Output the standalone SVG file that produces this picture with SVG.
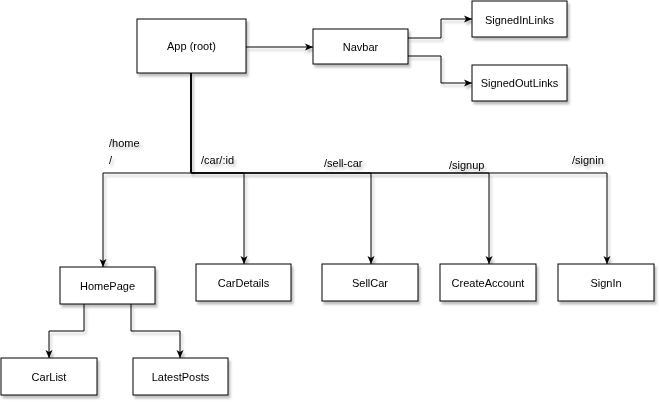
<svg xmlns="http://www.w3.org/2000/svg" width="659" height="402" viewBox="0 0 659 402">
<style>
.box{fill:#fff;stroke:#000;stroke-width:1}
.t{font-family:"Liberation Sans",Arial,sans-serif;font-size:11px;fill:#000;text-anchor:middle;dominant-baseline:central}
.lbl{font-family:"Liberation Sans",Arial,sans-serif;font-size:11px;fill:#000}
.e{fill:none;stroke:#000;stroke-width:1;marker-end:url(#arr)}
.n{fill:none;stroke:#000;stroke-width:1}
</style>
<defs>
<filter id="sh" x="-20%" y="-20%" width="150%" height="160%">
<feDropShadow dx="2" dy="3" stdDeviation="1.2" flood-color="#000" flood-opacity="0.25"/>
</filter>
<marker id="arr" markerWidth="10" markerHeight="10" refX="8" refY="4" orient="auto" markerUnits="userSpaceOnUse">
<path d="M0,0.5 L8,4 L0,7.5 L2,4 Z" fill="#000"/>
</marker>
</defs>
<rect width="659" height="402" fill="#fff"/>
<g id="connectors" filter="url(#sh)">
<path class="e" d="M246,47 L313,47"/>
<path class="e" d="M408,38 L441,38 L441,19 L472,19"/>
<path class="e" d="M408,56 L441,56 L441,83 L472,83"/>
<path class="e" d="M191,73 L191,173 L103,173 L103,267"/>
<path class="e" d="M191,73 L191,173 L244,173 L244,264"/>
<path class="e" d="M191,73 L191,173 L371,173 L371,264"/>
<path class="e" d="M191,73 L191,173 L489,173 L489,264"/>
<path class="e" d="M191,73 L191,173 L607,173 L607,264"/>
<path class="e" d="M84,304 L84,331 L49,331 L49,358"/>
<path class="e" d="M131,304 L131,331 L180,331 L180,358"/>
<text class="lbl" x="109" y="147">/home</text>
<text class="lbl" x="109" y="164">/</text>
<text class="lbl" x="201" y="164">/car/:id</text>
<text class="lbl" x="324" y="167">/sell-car</text>
<text class="lbl" x="449" y="169">/signup</text>
<text class="lbl" x="572" y="164">/signin</text>
</g>
<g id="app" filter="url(#sh)"><rect class="box" x="137" y="19" width="109" height="54"/><text class="t" x="191.5" y="46">App (root)</text></g>
<g id="navbar" filter="url(#sh)"><rect class="box" x="313" y="29" width="95" height="35"/><text class="t" x="360.5" y="46.5">Navbar</text></g>
<g id="signedin" filter="url(#sh)"><rect class="box" x="472" y="1" width="95" height="36"/><text class="t" x="519.5" y="19.5">SignedInLinks</text></g>
<g id="signedout" filter="url(#sh)"><rect class="box" x="472" y="65" width="95" height="36"/><text class="t" x="519.5" y="83">SignedOutLinks</text></g>
<g id="homepage" filter="url(#sh)"><rect class="box" x="60" y="267" width="95" height="37"/><text class="t" x="107.5" y="286">HomePage</text></g>
<g id="cardetails" filter="url(#sh)"><rect class="box" x="196" y="264" width="95" height="37"/><text class="t" x="243.5" y="283">CarDetails</text></g>
<g id="sellcar" filter="url(#sh)"><rect class="box" x="322" y="264" width="96" height="37"/><text class="t" x="370" y="283">SellCar</text></g>
<g id="createaccount" filter="url(#sh)"><rect class="box" x="440" y="264" width="96" height="37"/><text class="t" x="488" y="283">CreateAccount</text></g>
<g id="signin" filter="url(#sh)"><rect class="box" x="558" y="264" width="96" height="37"/><text class="t" x="606" y="283">SignIn</text></g>
<g id="carlist" filter="url(#sh)"><rect class="box" x="1" y="358" width="96" height="37"/><text class="t" x="49" y="377">CarList</text></g>
<g id="latestposts" filter="url(#sh)"><rect class="box" x="133" y="358" width="95" height="37"/><text class="t" x="180.5" y="377">LatestPosts</text></g>
</svg>
